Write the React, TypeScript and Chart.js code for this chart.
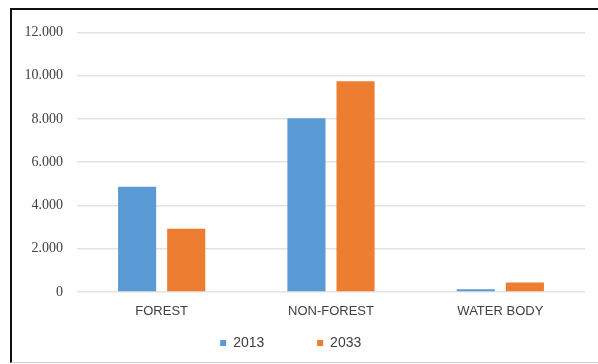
import React, { useEffect, useRef } from "react";
import { Chart, registerables } from "chart.js";

Chart.register(...registerables);

const categories = ["FOREST", "NON-FOREST", "WATER BODY"];
const seriesNames = ["2013", "2033"];
const values2013 = [4870, 8030, 130];
const values2033 = [2920, 9745, 440];
const yTicks = [0, 2000, 4000, 6000, 8000, 10000, 12000];

const fmt = (v: number) => String(v).replace(/\B(?=(\d{3})+(?!\d))/g, ".");

export default function App() {
  const ref = useRef<HTMLCanvasElement | null>(null);
  useEffect(() => {
    if (!ref.current) return;
    const chart = new Chart(ref.current, {
      type: "bar",
      data: {
        labels: categories,
        datasets: [
          { label: seriesNames[0], data: values2013, backgroundColor: "#5B9BD5", categoryPercentage: 0.58, barPercentage: 0.776 },
          { label: seriesNames[1], data: values2033, backgroundColor: "#ED7D31", categoryPercentage: 0.58, barPercentage: 0.776 },
        ],
      },
      options: {
        animation: false,
        responsive: false,
        maintainAspectRatio: false,
        layout: { padding: { left: 0, top: 16, right: 13, bottom: 2 } },
        plugins: {
          tooltip: { enabled: false },
          legend: {
            position: "bottom",
            labels: {
              boxWidth: 6,
              boxHeight: 6,
              padding: 10,
              color: "#404040",
              font: { family: "Liberation Sans", size: 14 },
              generateLabels: (c: any) => {
                const items = Chart.defaults.plugins.legend.labels.generateLabels(c);
                const pads = [11, 4];
                items.forEach((it: any, i: number) => {
                  it.text = it.text + " ".repeat(pads[i] || 0);
                  it.lineWidth = 0;
                });
                return items;
              },
            },
          },
        },
        scales: {
          x: {
            grid: { display: false, drawTicks: false },
            border: { display: false },
            ticks: { color: "#404040", font: { family: "Liberation Sans", size: 13 }, padding: 12 },
            afterFit: (s: any) => { s.height = 34; },
          },
          y: {
            min: 0,
            max: 12000,
            afterBuildTicks: (s: any) => { s.ticks = yTicks.map((v) => ({ value: v })); },
            grid: { color: "#e3e3e3", drawTicks: false, lineWidth: 1.5 },
            border: { display: false },
            ticks: {
              color: "#404040",
              font: { family: "Liberation Serif", size: 14 },
              padding: 14,
              callback: (v: any) => fmt(Number(v)),
            },
            afterFit: (s: any) => { s.width = 65; },
          },
        },
      },
    });
    return () => chart.destroy();
  }, []);
  return (
    <div
      style={{
        position: "absolute",
        left: 10,
        top: 8,
        width: 588,
        height: 355,
        boxSizing: "border-box",
        borderLeft: "2px solid #111",
        borderTop: "2px solid #111",
        borderBottom: "1px solid #d0d0d0",
        background: "#fff",
      }}
    >
      <canvas ref={ref} width={586} height={352} style={{ display: "block" }} />
    </div>
  );
}
